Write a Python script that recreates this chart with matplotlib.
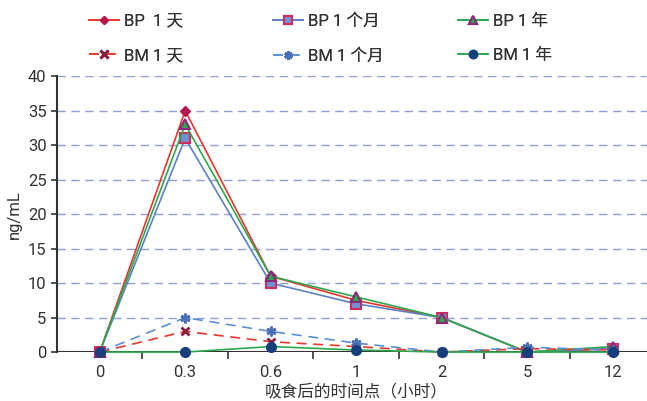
import matplotlib
matplotlib.use("Agg")
import matplotlib.pyplot as plt
import numpy as np

plt.rcParams['font.family'] = ['Roboto', 'Noto Sans CJK SC', 'DejaVu Sans']

categories = ["0", "0.3", "0.6", "1", "2", "5", "12"]
bp_day = [0, 35, 11, 7.5, 5, 0, 0.5]
bp_month = [0, 31, 10, 7, 5, 0, 0.5]
bp_year = [0, 33, 11, 8, 5, 0, 0.8]
bm_day = [0, 3, 1.5, 0.8, 0, 0.5, 0.3]
bm_month = [0, 5, 3, 1.3, 0, 0.7, 0.3]
bm_year = [0, 0, 0.8, 0.3, 0, 0, 0]
labels = ["BP  1 天", "BP 1 个月", "BP 1 年", "BM 1 天", "BM 1 个月", "BM 1 年"]
y_ticks = [0, 5, 10, 15, 20, 25, 30, 35, 40]

fig = plt.figure(figsize=(6.47, 4.01), dpi=100)
ax = fig.add_axes([0.088, 0.122, 0.925, 0.688])
x = np.arange(len(categories))

for v in y_ticks[1:]:
    ax.axhline(v, color='#8f9fd4', lw=1.0, ls=(0, (6, 4)), zorder=0)

styles = [
    dict(data=bp_day, color='#e8362e', ls='-', marker='D', ms=5, mfc='#b3174e', mec='#b3174e', mew=1),
    dict(data=bp_month, color='#5b80c8', ls='-', marker='s', ms=7, mfc='#6e93d4', mec='#d42a5c', mew=1.5),
    dict(data=bp_year, color='#2ca84c', ls='-', marker='^', ms=7, mfc='#2ca84c', mec='#8c2a7c', mew=1.5),
    dict(data=bm_day, color='#e8362e', ls=(0, (6, 4)), marker='x', ms=6, mfc='#8c1a3c', mec='#8c1a3c', mew=2),
    dict(data=bm_month, color='#5b8fd6', ls=(0, (6, 4)), marker=(6, 2, 0), ms=7, mfc='#4a6fb8', mec='#4a6fb8', mew=2),
    dict(data=bm_year, color='#2ca84c', ls='-', marker='o', ms=7, mfc='#173f7c', mec='#173f7c', mew=1),
]

handles = []
for lab, st in zip(labels, styles):
    h, = ax.plot(x, st['data'], color=st['color'], ls=st['ls'], lw=1.2,
                 marker=st['marker'], ms=st['ms'], mfc=st['mfc'], mec=st['mec'],
                 mew=st['mew'], label=lab, zorder=3, clip_on=False)
    handles.append(h)

ax.axhline(0, color='#333333', lw=1.5, zorder=2)
ax.set_xlim(-0.5, 6.5)
ax.set_ylim(0, 40)
ax.set_yticks(y_ticks)
ax.set_xticks(x)
ax.set_xticklabels(categories)
ax.set_xticks(np.arange(0.5, 6.5, 1), minor=True)
ax.tick_params(axis='x', which='major', length=0, pad=9, labelsize=12, colors='#333333')
ax.tick_params(axis='x', which='minor', length=5, direction='out', color='#333333', width=1.2)
ax.tick_params(axis='y', length=4, width=1.2, color='#333333', labelsize=12, labelcolor='#333333')

for s in ['top', 'right', 'bottom']:
    ax.spines[s].set_visible(False)
ax.spines['left'].set_color('#333333')
ax.spines['left'].set_linewidth(1.5)

ax.set_ylabel("ng/mL", fontsize=12, color='#333333', labelpad=4)
ax.set_xlabel("吸食后的时间点（小时）", fontsize=12, color='#333333', labelpad=3)

# legend: three columns (BP over BM), each placed on its own
col_x = [0.115, 0.398, 0.684]
for c, x0 in enumerate(col_x):
    idx = [c, c + 3]
    lg = fig.legend([handles[i] for i in idx], [labels[i] for i in idx],
                    loc='upper left', bbox_to_anchor=(x0, 1.003), frameon=False,
                    fontsize=12, handlelength=1.8, handletextpad=0.3,
                    labelspacing=1.15, labelcolor='#333333', markerscale=0.85)
    fig.add_artist(lg)

fig.savefig("out.png", dpi=100)
